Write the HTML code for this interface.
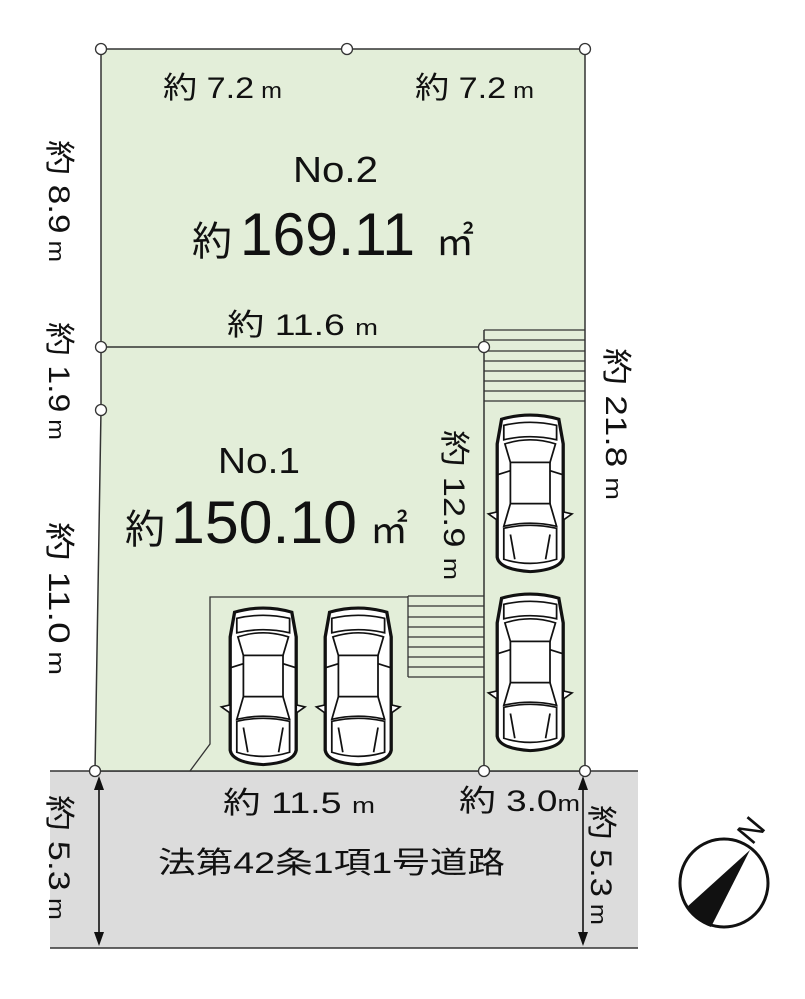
<!DOCTYPE html>
<html><head><meta charset="utf-8"><style>
html,body{margin:0;padding:0;background:#fff;}
svg{display:block;}
text{font-family:"Liberation Sans","Noto Sans CJK JP",sans-serif;fill:#111;}
</style></head><body>
<svg width="805" height="999" viewBox="0 0 805 999" xmlns="http://www.w3.org/2000/svg">
<defs>
<g id="car" fill="#fff" stroke="#111" stroke-width="1.6">
<path d="M6,6 Q32,-2 58,6 L62,30 L62,140 Q60,152 32,154 Q4,152 2,140 L2,30 Z" stroke-width="3"/>
<path d="M8,12 Q32,6 56,12 L56,26 Q32,20 8,26 Z"/>
<path d="M9,30 Q32,22 55,30 L50,48 L14,48 Z"/>
<rect x="14" y="48" width="36" height="40"/>
<path d="M14,88 L50,88 L56,110 Q32,104 8,110 Z"/>
<path d="M8,112 Q32,106 56,112 L56,142 Q32,150 8,142 Z"/>
<line x1="14" y1="118" x2="18" y2="142"/><line x1="50" y1="118" x2="46" y2="142"/>
<path d="M2,96 L-6,98 L2,104 Z"/><path d="M62,96 L70,98 L62,104 Z"/>
<line x1="2" y1="60" x2="14" y2="56"/><line x1="62" y1="60" x2="50" y2="56"/>
</g>
</defs>
<rect x="50" y="771" width="588" height="177" fill="#dcdcdc"/>
<line x1="50" y1="771" x2="638" y2="771" stroke="#333" stroke-width="1.5"/>
<line x1="50" y1="948" x2="638" y2="948" stroke="#333" stroke-width="1.5"/>
<polygon points="101,49 585,49 585,771 95,771 101,410" fill="#e3eed9" stroke="#333" stroke-width="1.5"/>
<line x1="101" y1="347" x2="484" y2="347" stroke="#333" stroke-width="1.5"/>
<line x1="484" y1="330" x2="484" y2="771" stroke="#333" stroke-width="1.5"/>
<g stroke="#333" stroke-width="1.3">
<line x1="484" y1="330" x2="585" y2="330"/><line x1="484" y1="340" x2="585" y2="340"/>
<line x1="484" y1="351" x2="585" y2="351"/><line x1="484" y1="361" x2="585" y2="361"/>
<line x1="484" y1="371" x2="585" y2="371"/><line x1="484" y1="381" x2="585" y2="381"/>
<line x1="484" y1="391" x2="585" y2="391"/><line x1="484" y1="401" x2="585" y2="401"/>
<line x1="408" y1="596" x2="484" y2="596"/><line x1="408" y1="606" x2="484" y2="606"/>
<line x1="408" y1="617" x2="484" y2="617"/><line x1="408" y1="627" x2="484" y2="627"/>
<line x1="408" y1="637" x2="484" y2="637"/><line x1="408" y1="647" x2="484" y2="647"/>
<line x1="408" y1="657" x2="484" y2="657"/><line x1="408" y1="667" x2="484" y2="667"/>
<line x1="408" y1="677" x2="484" y2="677"/><line x1="408" y1="596" x2="408" y2="677"/>
<polyline points="408,597 210,597 210,744 190,771" fill="none"/>
</g>
<use href="#car" transform="translate(228,606) scale(1.1,1.03)"/>
<use href="#car" transform="translate(323,606) scale(1.1,1.03)"/>
<use href="#car" transform="translate(495,413) scale(1.1,1.03)"/>
<use href="#car" transform="translate(495,592) scale(1.1,1.03)"/>
<g fill="#fff" stroke="#333" stroke-width="1.3">
<circle cx="101" cy="49" r="5.5"/><circle cx="347" cy="49" r="5.5"/><circle cx="585" cy="49" r="5.5"/>
<circle cx="101" cy="347" r="5.5"/><circle cx="484" cy="347" r="5.5"/><circle cx="101" cy="410" r="5.5"/>
<circle cx="95" cy="771" r="5.5"/><circle cx="484" cy="771" r="5.5"/><circle cx="585" cy="771" r="5.5"/>
</g>
<g stroke="#111" stroke-width="1.6">
<line x1="99" y1="780" x2="99" y2="940"/><line x1="583" y1="780" x2="583" y2="940"/>
</g>
<g fill="#111">
<polygon points="99,776 94,790 104,790"/><polygon points="99,946 94,932 104,932"/>
<polygon points="583,776 578,790 588,790"/><polygon points="583,946 578,932 588,932"/>
</g>
<g font-size="30">
<text x="163" y="98" textLength="119" lengthAdjust="spacingAndGlyphs">約 7.2<tspan font-size="22"> m</tspan></text>
<text x="415" y="98" textLength="119" lengthAdjust="spacingAndGlyphs">約 7.2<tspan font-size="22"> m</tspan></text>
<text x="227" y="335" textLength="151" lengthAdjust="spacingAndGlyphs">約 11.6 <tspan font-size="22">m</tspan></text>
<text x="223" y="813" textLength="152" lengthAdjust="spacingAndGlyphs">約 11.5 <tspan font-size="22">m</tspan></text>
<text x="459" y="811" textLength="121" lengthAdjust="spacingAndGlyphs">約 3.0<tspan font-size="22">m</tspan></text>
</g>
<text x="293" y="182" font-size="36" textLength="85" lengthAdjust="spacingAndGlyphs">No.2</text>
<text x="192" y="255" font-size="40">約</text>
<text x="240" y="255" font-size="60" textLength="175" lengthAdjust="spacingAndGlyphs">169.11</text>
<text x="436" y="255" font-size="38">㎡</text>
<text x="218" y="473" font-size="36" textLength="82" lengthAdjust="spacingAndGlyphs">No.1</text>
<text x="125" y="543" font-size="40">約</text>
<text x="171" y="543" font-size="60" textLength="186" lengthAdjust="spacingAndGlyphs">150.10</text>
<text x="370" y="543" font-size="38">㎡</text>
<text x="158" y="873" font-size="30" textLength="347" lengthAdjust="spacingAndGlyphs">法第42条1項1号道路</text>
<g font-size="30">
<text transform="translate(49,140) rotate(90)" textLength="122" lengthAdjust="spacingAndGlyphs">約 8.9<tspan font-size="22"> m</tspan></text>
<text transform="translate(49,322) rotate(90)" textLength="118" lengthAdjust="spacingAndGlyphs">約 1.9<tspan font-size="22"> m</tspan></text>
<text transform="translate(49,522) rotate(90)" textLength="153" lengthAdjust="spacingAndGlyphs">約 11.0<tspan font-size="22"> m</tspan></text>
<text transform="translate(49,795) rotate(90)" textLength="125" lengthAdjust="spacingAndGlyphs">約 5.3<tspan font-size="22"> m</tspan></text>
<text transform="translate(444,430) rotate(90)" textLength="150" lengthAdjust="spacingAndGlyphs">約 12.9 <tspan font-size="22">m</tspan></text>
<text transform="translate(606,348) rotate(90)" textLength="152" lengthAdjust="spacingAndGlyphs">約 21.8 <tspan font-size="22">m</tspan></text>
<text transform="translate(591,805) rotate(90)" textLength="120" lengthAdjust="spacingAndGlyphs">約 5.3<tspan font-size="22"> m</tspan></text>
</g>
<circle cx="724" cy="883" r="44" fill="#fff" stroke="#111" stroke-width="3"/>
<path d="M750,850 L711,927 A44,44 0 0 1 687,907 Z" fill="#111"/>
<text transform="translate(752,846) rotate(-50)" font-size="32">N</text>
</svg>
</body></html>
